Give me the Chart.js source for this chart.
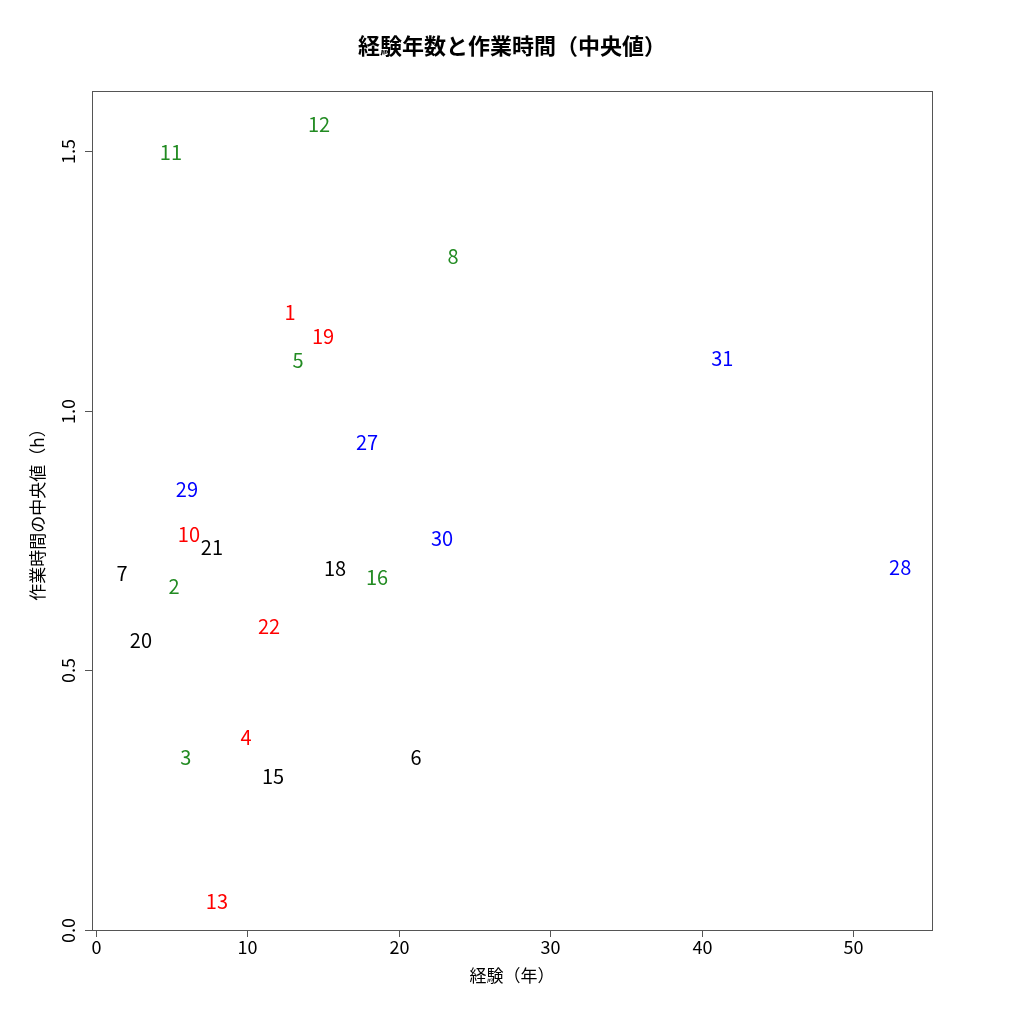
<!DOCTYPE html>
<html><head><meta charset="utf-8">
<script src="https://cdn.jsdelivr.net/npm/chart.js@4/dist/chart.umd.min.js"></script>
<style>html,body{margin:0;background:#fff}#wrap{width:1024px;height:1024px}</style>
</head><body><div id="wrap"><canvas id="c"></canvas></div>
<script>
// Data
const ids = ["11","12","8","1","19","5","31","27","29","10","21","30","7","18","16","28","2","22","20","4","3","6","15","13"];
const experience = [4.95,14.73,23.58,12.81,14.99,13.34,41.35,17.9,6.01,6.14,7.66,22.85,1.72,15.79,18.56,53.1,5.15,11.43,2.97,9.91,5.94,21.14,11.69,7.99];
const medianHours = [1.498,1.552,1.298,1.19,1.144,1.098,1.101,0.94,0.849,0.761,0.736,0.755,0.686,0.697,0.68,0.699,0.662,0.585,0.557,0.37,0.333,0.333,0.295,0.056];
const groups = ["g","g","g","r","r","g","b","b","b","r","k","b","k","k","g","b","g","r","k","r","g","k","k","r"];
const xTicks = [0,10,20,30,40,50];
const yTicks = ["0.0","0.5","1.0","1.5"];
const colors = { r: "#ff0000", g: "#228b22", b: "#0000ff", k: "#000000" };
const font = "'Noto Sans CJK JP', 'Noto Sans', sans-serif";

const labelPlugin = {
  id: "rplot",
  afterDatasetsDraw(chart) {
    const { ctx, chartArea: a, scales: { x, y } } = chart;
    ctx.save();
    ctx.strokeStyle = "#555"; ctx.lineWidth = 1;
    ctx.strokeRect(a.left + 0.5, a.top + 0.5, a.right - a.left, a.bottom - a.top);
    ctx.fillStyle = "#000";
    ctx.font = "18px " + font;
    ctx.textAlign = "center"; ctx.textBaseline = "top";
    ctx.beginPath();
    ctx.moveTo(x.getPixelForValue(0), a.bottom + 0.5);
    ctx.lineTo(x.getPixelForValue(50), a.bottom + 0.5);
    xTicks.forEach(v => {
      const px = Math.round(x.getPixelForValue(v)) + 0.5;
      ctx.moveTo(px, a.bottom); ctx.lineTo(px, a.bottom + 7);
      ctx.fillText(String(v), px, a.bottom + 8);
    });
    ctx.moveTo(a.left + 0.5, y.getPixelForValue(0));
    ctx.lineTo(a.left + 0.5, y.getPixelForValue(1.5));
    yTicks.forEach(t => {
      const py = Math.round(y.getPixelForValue(parseFloat(t))) + 0.5;
      ctx.moveTo(a.left, py); ctx.lineTo(a.left - 7, py);
      ctx.save(); ctx.translate(a.left - 24, py); ctx.rotate(-Math.PI / 2);
      ctx.textBaseline = "middle"; ctx.fillText(t, 0, 0); ctx.restore();
    });
    ctx.stroke();
    // point labels
    ctx.font = "20px " + font;
    ctx.textBaseline = "middle";
    chart.data.datasets[0].data.forEach((p, i) => {
      ctx.fillStyle = colors[groups[i]];
      ctx.fillText(ids[i], x.getPixelForValue(p.x), y.getPixelForValue(p.y));
    });
    // axis titles
    ctx.fillStyle = "#000"; ctx.font = "17px " + font;
    ctx.textBaseline = "middle";
    ctx.fillText("経験（年）", (a.left + a.right) / 2, 976);
    ctx.save(); ctx.translate(38, (a.top + a.bottom) / 2); ctx.rotate(-Math.PI / 2);
    ctx.fillText("作業時間の中央値（h）", 0, 0); ctx.restore();
    ctx.font = "bold 22px " + font;
    ctx.fillText("経験年数と作業時間（中央値）", 512, 46);
    ctx.restore();
  }
};

new Chart(document.getElementById("c"), {
  type: "scatter",
  data: { datasets: [{ data: experience.map((v, i) => ({ x: v, y: medianHours[i] })), pointRadius: 0, pointHoverRadius: 0 }] },
  options: {
    responsive: true, maintainAspectRatio: false, animation: false,
    layout: { padding: { left: 92, top: 91, right: 92, bottom: 94 } },
    plugins: { legend: { display: false }, tooltip: { enabled: false } },
    scales: {
      x: { display: false, min: -0.26, max: 55.2 },
      y: { display: false, min: 0, max: 1.616 }
    }
  },
  plugins: [labelPlugin]
});
</script></body></html>
